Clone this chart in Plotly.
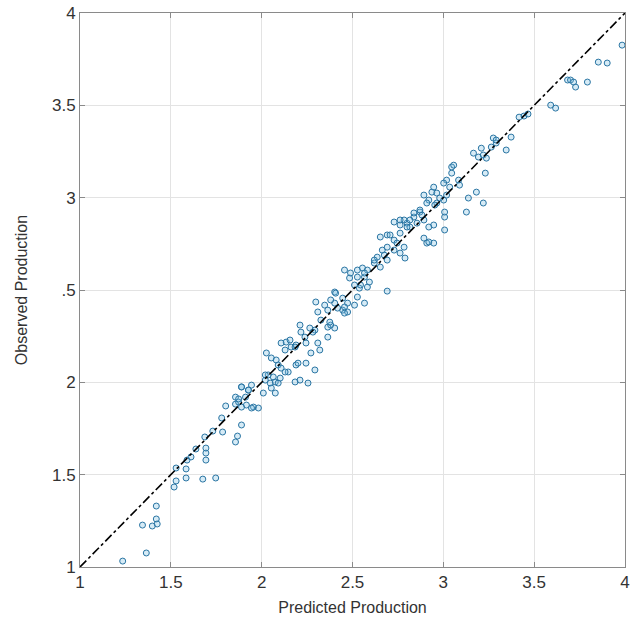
import plotly.graph_objects as go

predicted = [1.235, 1.365, 1.344, 1.398, 1.420, 1.425, 1.420, 1.518, 1.529, 1.529, 1.584, 1.584, 1.676, 1.747,
             1.589, 1.611, 1.638, 1.693, 1.693, 1.693, 1.687, 1.731, 1.780, 1.785, 1.856, 1.867, 1.889, 1.802,
             1.856, 1.873, 1.916, 1.955, 1.889, 1.944, 1.982, 1.911, 1.927, 1.889, 2.009, 2.020, 2.047, 2.053,
             2.075, 2.091, 2.064, 2.036, 2.102, 2.184, 2.211, 2.255, 2.146, 2.189, 2.244, 2.026, 2.053, 2.080,
             2.091, 2.107, 2.129, 2.107, 2.135, 2.156, 2.162, 2.129, 2.189, 2.211, 2.216, 2.238, 2.265, 2.293,
             2.309, 2.320, 2.271, 2.244, 2.309, 2.326, 2.364, 2.380, 2.402, 2.364, 2.298, 2.347, 2.402, 2.446,
             2.473, 2.511, 2.566, 2.380, 2.402, 2.364, 2.418, 2.456, 2.473, 2.456, 2.691, 2.456, 2.484, 2.511,
             2.538, 2.582, 2.593, 2.566, 2.527, 2.555, 2.582, 2.620, 2.636, 2.675, 2.691, 2.653, 2.653, 2.691,
             2.729, 2.745, 2.784, 2.789, 2.762, 2.729, 2.762, 2.800, 2.855, 2.893, 2.947, 2.909, 2.947, 2.816,
             2.871, 2.838, 2.784, 3.007, 3.007, 3.007, 2.893, 2.920, 2.937, 2.947, 2.964, 2.980, 3.018, 3.035,
             3.018, 3.046, 3.046, 3.057, 3.084, 3.089, 3.127, 3.138, 3.182, 3.220, 3.231, 3.166, 3.193, 3.220,
             3.209, 3.346, 3.264, 3.291, 3.237, 3.275, 3.291, 3.373, 3.417, 3.444, 3.466, 3.591, 3.618, 3.684,
             3.700, 3.717, 3.728, 3.793, 3.853, 3.902, 3.984,
             1.944, 2.075, 2.200, 2.293, 2.184, 2.282, 2.375, 2.407, 2.446, 2.527, 2.489, 2.527, 2.566, 2.544,
             2.620, 2.664, 2.707, 2.762, 2.691, 2.729, 2.800, 2.762, 2.816, 2.838, 2.882, 2.871, 2.920, 2.893,
             2.920, 2.909, 2.964, 3.002, 3.002, 2.953, 1.889, 1.927, 1.856, 1.873, 2.020]

observed = [1.032, 1.076, 1.227, 1.222, 1.260, 1.233, 1.330, 1.433, 1.466, 1.536, 1.482, 1.531, 1.476, 1.482,
            1.579, 1.596, 1.639, 1.579, 1.617, 1.644, 1.704, 1.736, 1.807, 1.731, 1.677, 1.709, 1.769, 1.872,
            1.882, 1.893, 1.877, 1.866, 1.866, 1.861, 1.861, 1.920, 1.958, 1.975, 1.942, 2.012, 1.996, 1.969,
            2.002, 1.996, 2.029, 2.040, 2.023, 2.002, 2.012, 1.996, 2.056, 2.094, 2.104, 2.159, 2.132, 2.121,
            2.094, 2.077, 2.056, 2.213, 2.218, 2.229, 2.191, 2.175, 2.202, 2.310, 2.272, 2.245, 2.294, 2.283,
            2.213, 2.175, 2.159, 2.213, 2.381, 2.337, 2.299, 2.310, 2.294, 2.245, 2.435, 2.418, 2.429, 2.391,
            2.429, 2.418, 2.429, 2.446, 2.489, 2.391, 2.402, 2.408, 2.381, 2.375, 2.494, 2.608, 2.565, 2.527,
            2.510, 2.516, 2.543, 2.570, 2.608, 2.619, 2.608, 2.646, 2.678, 2.689, 2.662, 2.624, 2.787, 2.798,
            2.770, 2.754, 2.732, 2.673, 2.700, 2.868, 2.852, 2.862, 2.862, 2.879, 2.852, 2.754, 2.754, 2.841,
            2.922, 2.895, 2.879, 2.825, 2.895, 2.922, 3.014, 2.987, 3.030, 3.057, 2.971, 2.998, 3.014, 3.057,
            3.095, 3.133, 3.166, 3.176, 3.095, 3.068, 2.922, 2.998, 3.030, 2.971, 3.133, 3.241, 3.220, 3.231,
            3.268, 3.258, 3.274, 3.296, 3.214, 3.323, 3.312, 3.328, 3.436, 3.442, 3.453, 3.501, 3.485, 3.637,
            3.637, 3.626, 3.599, 3.626, 3.734, 3.729, 3.826,
            1.985, 1.942, 2.104, 2.067, 2.191, 2.272, 2.326, 2.483, 2.456, 2.462, 2.592, 2.570, 2.592, 2.527,
            2.662, 2.716, 2.798, 2.808, 2.732, 2.716, 2.841, 2.879, 2.879, 2.917, 2.906, 2.933, 2.841, 2.781,
            2.760, 2.971, 3.025, 3.079, 2.987, 2.960, 1.975, 1.958, 1.920, 1.910, 2.040]

tick_vals = [1, 1.5, 2, 2.5, 3, 3.5, 4]
x_tick_text = ["1", "1.5", "2", "2.5", "3", "3.5", "4"]
y_tick_text = ["1", "1.5", "2", ".5", "3", "3.5", "4"]
line_ends = [1, 4]

FONT = "Liberation Sans, Arial, sans-serif"

fig = go.Figure()
fig.add_trace(go.Scatter(
    x=predicted, y=observed, mode="markers",
    marker=dict(symbol="circle", size=6, color="rgba(120,190,225,0.3)",
                line=dict(color="#2a75a3", width=1)),
    showlegend=False))
fig.add_trace(go.Scatter(
    x=line_ends, y=line_ends, mode="lines",
    line=dict(color="black", width=1.6, dash="dashdot"),
    showlegend=False))

axis_common = dict(
    range=[1, 4], tickmode="array", tickvals=tick_vals,
    showgrid=True, gridcolor="#e3e3e3", gridwidth=1,
    showline=True, linecolor="#8a8a8a", linewidth=1, mirror="ticks",
    ticks="inside", ticklen=5, tickcolor="#8a8a8a",
    zeroline=False, ticklabeloverflow="allow",
    tickfont=dict(family=FONT, size=17, color="#333333"),
)

fig.update_layout(
    width=633, height=631,
    margin=dict(l=80, r=3, t=13, b=64),
    plot_bgcolor="white", paper_bgcolor="white",
    xaxis=dict(axis_common, ticktext=x_tick_text,
               title=dict(text="Predicted Production", standoff=10,
                          font=dict(family=FONT, size=16, color="#333333"))),
    yaxis=dict(axis_common, ticktext=y_tick_text,
               title=dict(text="Observed Production", standoff=20,
                          font=dict(family=FONT, size=16, color="#333333"))),
)

fig.write_html("out.html")
